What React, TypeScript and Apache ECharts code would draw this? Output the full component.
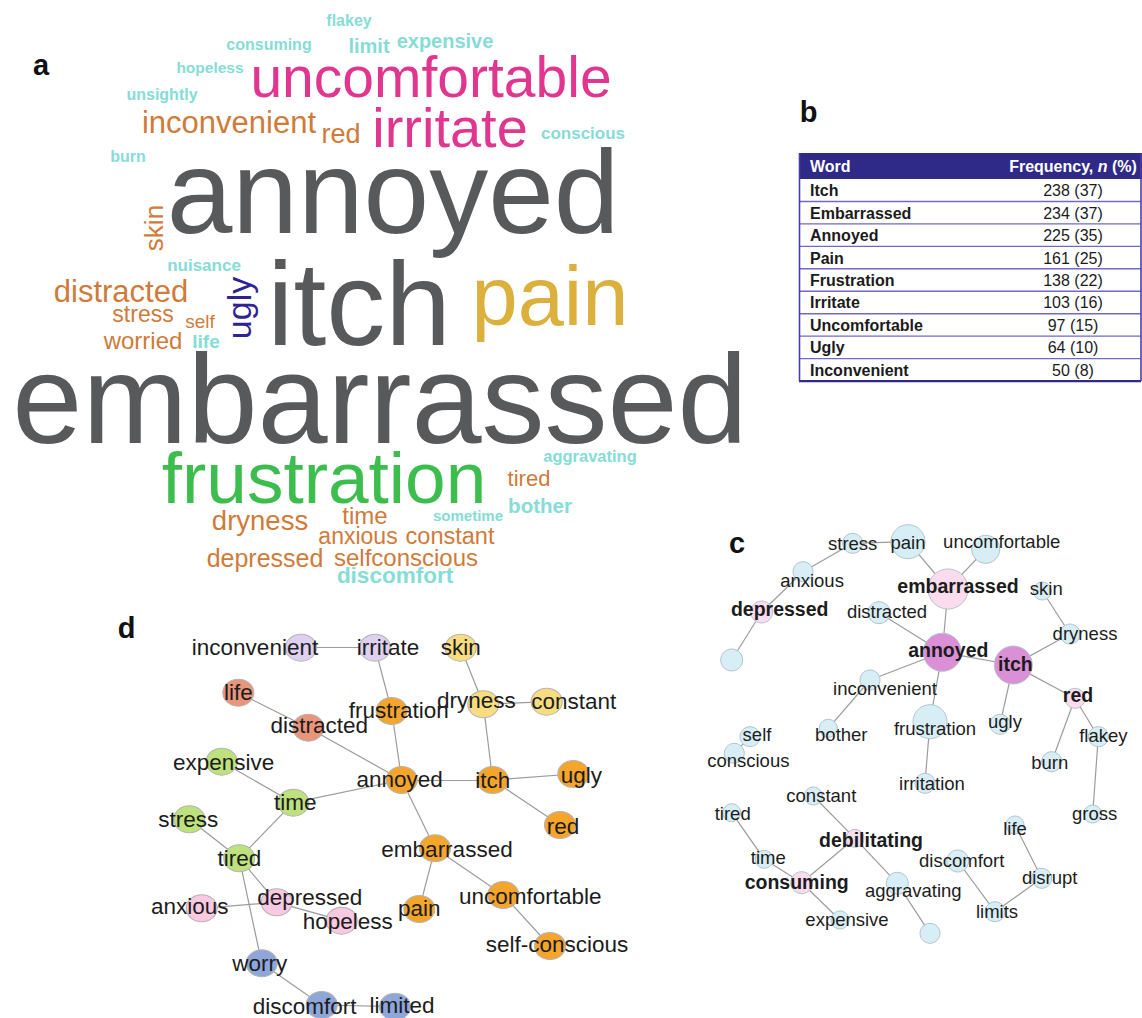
import React, { useEffect, useRef } from "react";
import * as echarts from "echarts";

const FONT = '"Liberation Sans", Arial, Helvetica, sans-serif';

// ---------- Panel a: word cloud ----------
const cloudWords = [
  "flakey", "consuming", "limit", "expensive", "hopeless", "uncomfortable", "unsightly",
  "inconvenient", "red", "irritate", "conscious", "burn", "annoyed", "skin", "nuisance",
  "distracted", "ugly", "itch", "pain", "stress", "self", "worried", "life", "embarrassed",
  "frustration", "aggravating", "tired", "bother", "sometime", "dryness", "time", "anxious",
  "constant", "depressed", "selfconscious", "discomfort",
];
const cloudGroup = [
  "teal", "teal", "teal", "teal", "teal", "pink", "teal",
  "orange", "orange", "pink", "teal", "teal", "gray", "orange", "teal",
  "orange", "navy", "gray", "gold", "orange", "orange", "orange", "teal", "gray",
  "green", "teal", "orange", "teal", "teal", "orange", "orange", "orange",
  "orange", "orange", "orange", "teal",
];
// layout of the cloud: [x, y, font size, rotation]
const cloudLayout: [number, number, number, number][] = [
  [349, 20.5, 16, 0], [269, 44.5, 16, 0], [369, 46, 20, 0], [445, 41, 20, 0], [210, 67.5, 15.5, 0],
  [431, 77, 57, 0], [162, 94.5, 16, 0], [229, 122, 31, 0], [341, 133.5, 27, 0], [450, 127.5, 56, 0],
  [583, 133, 17, 0], [128, 156.5, 16, 0], [393, 192, 118, 0], [154, 228, 26, 90], [204, 265, 17, 0],
  [121, 291, 31, 0], [239, 308, 34, 90], [359, 304, 118, 0], [550, 296, 83, 0], [143, 314, 23, 0],
  [200, 321, 19, 0], [143, 340, 24, 0], [206, 341, 19, 0], [380, 399, 126, 0], [324, 477, 73, 0],
  [590, 456, 16.5, 0], [529, 478, 22, 0], [540, 505, 20.5, 0], [468, 515, 15, 0], [260, 520, 27.5, 0],
  [365, 515, 24, 0], [358, 536, 23, 0], [450, 536, 23.5, 0], [265, 558, 25, 0], [406, 557, 24, 0],
  [395, 575, 22.5, 0],
];
const cloudColors: Record<string, string> = {
  gray: "#58595b", pink: "#e1368f", gold: "#dcb03c", green: "#3ebd4f",
  orange: "#cf7b39", teal: "#86dcd6", navy: "#2e2391",
};

// ---------- Panel b: table ----------
const tableWords = ["Itch", "Embarrassed", "Annoyed", "Pain", "Frustration", "Irritate", "Uncomfortable", "Ugly", "Inconvenient"];
const tableN = [238, 234, 225, 161, 138, 103, 97, 64, 50];
const tablePct = [37, 37, 35, 25, 22, 16, 15, 10, 8];

// ---------- Panel c: network ----------
const cNames = [
  "stress", "pain", "uncomfortable", "anxious", "embarrassed", "skin", "depressed", "distracted",
  "blank1", "dryness", "annoyed", "itch", "inconvenient", "red", "frustration", "ugly", "bother",
  "flakey", "self", "conscious", "burn", "irritation", "constant", "tired", "gross", "life",
  "debilitating", "time", "discomfort", "consuming", "disrupt", "aggravating", "limits", "expensive", "blank2",
];
const cKind = [
  "b", "b", "b", "b", "p", "b", "p", "b",
  "b", "b", "m", "m", "b", "p", "b", "b", "b",
  "b", "b", "b", "b", "b", "b", "b", "b", "b",
  "p", "b", "b", "p", "b", "b", "b", "b", "b",
];
const cPos: [number, number][] = [
  [852.7, 543.3], [908, 541.7], [985.7, 549.3], [803, 571.7], [948, 589], [1042.3, 591], [761.7, 612], [879, 612.7],
  [731.7, 660], [1070, 634], [942.3, 652.3], [1013.3, 665], [870, 680], [1075, 698.3], [930, 721.7], [1000, 724.3], [828.3, 728.3],
  [1098.3, 736.7], [750, 736.7], [734.3, 753.3], [1051.7, 761.7], [925, 783.3], [813.3, 796], [731.7, 812.7], [1092.7, 814], [1015, 825],
  [855, 838.3], [764.3, 859.3], [957.7, 861], [801.7, 882.7], [1041.7, 878.3], [897.3, 883.3], [995, 911.7], [840, 920], [930, 933.3],
];
const cSize = [
  20, 34, 28, 20, 40, 18, 22, 22,
  22, 20, 38, 38, 20, 20, 34, 20, 18,
  20, 20, 20, 20, 20, 18, 18, 18, 18,
  18, 18, 22, 22, 20, 22, 20, 18, 20,
];
const cLabelOffset: [number, number][] = [
  [0, 0], [0, 1], [16, -8], [9, 9], [10, -3], [4, -3], [18, -3], [8, -1],
  [0, 0], [15, -1], [6, -2], [2, -1], [15, 8], [3, -3], [5, 7], [5, -3], [13, 6],
  [5, -1], [7, -2], [14, 7], [-2, 1], [7, 0], [8, -1], [1, 1], [2, -1], [0, 3],
  [16, 2], [4, -2], [4, -1], [-5, -1], [8, -1], [16, 7], [2, 0], [7, -1], [0, 0],
];
const cBold = ["embarrassed", "depressed", "annoyed", "itch", "red", "debilitating", "consuming"];
const cEdges: [string, string][] = [
  ["stress", "pain"], ["stress", "anxious"], ["anxious", "depressed"], ["depressed", "blank1"],
  ["pain", "embarrassed"], ["uncomfortable", "embarrassed"], ["embarrassed", "annoyed"],
  ["distracted", "annoyed"], ["annoyed", "itch"], ["annoyed", "inconvenient"], ["annoyed", "frustration"],
  ["inconvenient", "bother"], ["frustration", "irritation"], ["itch", "dryness"], ["dryness", "skin"],
  ["itch", "ugly"], ["itch", "red"], ["red", "burn"], ["red", "flakey"], ["flakey", "gross"],
  ["self", "conscious"], ["tired", "time"], ["time", "consuming"], ["consuming", "debilitating"],
  ["consuming", "expensive"], ["constant", "debilitating"], ["debilitating", "aggravating"],
  ["aggravating", "blank2"], ["discomfort", "limits"], ["limits", "disrupt"], ["disrupt", "life"],
];
const cColors: Record<string, string> = { b: "#d7eef6", p: "#fbdcef", m: "#db8fd6" };

// ---------- Panel d: network ----------
const dNames = [
  "inconvenient", "irritate", "skin", "life", "frustration", "dryness", "constant", "distracted",
  "expensive", "annoyed", "itch", "ugly", "time", "stress", "red", "embarrassed", "tired",
  "depressed", "anxious", "uncomfortable", "pain", "hopeless", "self-conscious", "worry", "discomfort", "limited",
];
const dCluster = [
  "lav", "lav", "yel", "sal", "org", "yel", "yel", "sal",
  "grn", "org", "org", "org", "grn", "grn", "org", "org", "grn",
  "pnk", "pnk", "org", "org", "pnk", "org", "blu", "blu", "blu",
];
const dPos: [number, number][] = [
  [301, 647.7], [375, 647.7], [460.7, 647.7], [238.3, 692.7], [391.7, 711], [483.3, 704.3], [546.7, 701.7], [308.3, 727.7],
  [221.7, 761.7], [401.7, 780], [492.7, 780], [573.3, 774], [293.3, 802.7], [189.3, 819.3], [560, 825], [435, 848.3], [239.3, 858.3],
  [276.7, 902.3], [201.7, 908.3], [503.3, 895], [419.3, 909], [341.7, 920.7], [550, 946], [261.7, 963.3], [321.7, 1005], [395, 1006.7],
];
const dLabelOffset: [number, number][] = [
  [-46, 0], [13, 0], [0, 0], [0, 0], [7, -1], [-7, -4], [27, 0], [11, -2],
  [2, 1], [-2, -1], [0, 0], [8, 1], [2, 0], [-1, 0], [3, 1], [12, 1], [0, 0],
  [33, -5], [-12, -2], [27, 1], [0, -1], [6, 1], [7, -2], [-2, 0], [-17, 1], [7, -1],
];
const dEdges: [string, string][] = [
  ["inconvenient", "irritate"], ["irritate", "frustration"], ["frustration", "annoyed"],
  ["skin", "dryness"], ["dryness", "constant"], ["dryness", "itch"], ["life", "distracted"],
  ["distracted", "annoyed"], ["expensive", "time"], ["time", "annoyed"], ["annoyed", "itch"],
  ["itch", "ugly"], ["itch", "red"], ["annoyed", "embarrassed"], ["embarrassed", "pain"],
  ["embarrassed", "uncomfortable"], ["uncomfortable", "self-conscious"], ["time", "tired"],
  ["stress", "tired"], ["tired", "depressed"], ["tired", "worry"], ["anxious", "depressed"],
  ["depressed", "hopeless"], ["worry", "discomfort"], ["discomfort", "limited"],
];
const dColors: Record<string, string> = {
  lav: "#ded0f0", yel: "#f8dd80", sal: "#e9957b", org: "#f5a52c",
  grn: "#bde17d", pnk: "#f9c9e1", blu: "#8ea6da",
};

// ---------- panel letters ----------
const panelLetters = ["a", "b", "c", "d"];
const panelLetterPos: [number, number][] = [[41, 64.5], [808.5, 111.5], [737, 542.5], [126.5, 627.5]];

const ELLIPSE = "path://M0,50 A50,50 0 1,1 100,50 A50,50 0 1,1 0,50 Z";

function buildOption(): any {
  const cloudData = cloudWords.map((w, i) => {
    const [x, y, fs, rot] = cloudLayout[i];
    const g = cloudGroup[i];
    return {
      name: w,
      value: [x, y],
      label: {
        fontSize: fs,
        color: cloudColors[g],
        fontWeight: g === "teal" ? "bold" : "normal",
        rotate: rot,
      },
    };
  });

  const cData = cNames.map((n, i) => ({
    name: n,
    value: cPos[i],
    symbolSize: cSize[i],
    itemStyle: { color: cColors[cKind[i]], borderColor: "#b3c4cc", borderWidth: 1 },
    label: {
      show: !n.startsWith("blank"),
      offset: cLabelOffset[i],
      fontWeight: cBold.includes(n) ? "bold" : "normal",
      fontSize: cBold.includes(n) ? 19.5 : 18.5,
    },
  }));

  const dData = dNames.map((n, i) => ({
    name: n,
    value: dPos[i],
    symbolSize: [31, 27],
    itemStyle: { color: dColors[dCluster[i]], borderColor: "#b4b4b4", borderWidth: 1 },
    label: { offset: dLabelOffset[i] },
  }));

  const graphic: any[] = [];
  // table
  const tLeft = 799;
  const tRight = 1141;
  const headTop = 153;
  const headH = 26;
  const rowH = 22.45;
  const wordX = 810;
  const valX = 1073;
  graphic.push({
    type: "rect",
    shape: { x: tLeft, y: headTop, width: tRight - tLeft + 1, height: headH },
    style: { fill: "#2f2a88" },
  });
  graphic.push({
    type: "text",
    x: wordX,
    y: headTop + headH / 2,
    style: { text: "Word", fill: "#ffffff", font: `bold 16px ${FONT}`, textAlign: "left", textVerticalAlign: "middle" },
  });
  graphic.push({
    type: "text",
    x: valX,
    y: headTop + headH / 2,
    style: {
      text: "{a|Frequency, }{b|n}{a| (%)}",
      textAlign: "center",
      textVerticalAlign: "middle",
      rich: {
        a: { fill: "#ffffff", fontFamily: FONT, fontWeight: "bold", fontSize: 16 },
        b: { fill: "#ffffff", fontFamily: FONT, fontWeight: "bold", fontStyle: "italic", fontSize: 16 },
      },
    },
  });
  const rowsTop = headTop + headH;
  tableWords.forEach((w, i) => {
    const top = rowsTop + i * rowH;
    graphic.push({
      type: "text",
      x: wordX,
      y: top + rowH / 2 + 0.5,
      style: { text: w, fill: "#1b1b1b", font: `bold 16px ${FONT}`, textAlign: "left", textVerticalAlign: "middle" },
    });
    graphic.push({
      type: "text",
      x: valX,
      y: top + rowH / 2 + 0.5,
      style: { text: `${tableN[i]} (${tablePct[i]})`, fill: "#1b1b1b", font: `16px ${FONT}`, textAlign: "center", textVerticalAlign: "middle" },
    });
    const last = i === tableWords.length - 1;
    graphic.push({
      type: "line",
      shape: { x1: tLeft, y1: top + rowH, x2: tRight, y2: top + rowH },
      style: { stroke: last ? "#2f2a88" : "#7467c9", lineWidth: last ? 2.2 : 1.4 },
    });
  });
  const tBottom = rowsTop + tableWords.length * rowH;
  graphic.push({
    type: "line",
    shape: { x1: tLeft + 0.5, y1: headTop, x2: tLeft + 0.5, y2: tBottom },
    style: { stroke: "#4a3fa8", lineWidth: 1.6 },
  });
  graphic.push({
    type: "line",
    shape: { x1: tRight, y1: headTop, x2: tRight, y2: tBottom },
    style: { stroke: "#4a3fa8", lineWidth: 1.6 },
  });

  panelLetters.forEach((l, i) => {
    graphic.push({
      type: "text",
      x: panelLetterPos[i][0],
      y: panelLetterPos[i][1],
      style: { text: l, fill: "#111111", font: `bold 29px ${FONT}`, textAlign: "center", textVerticalAlign: "middle" },
    });
  });

  return {
    animation: false,
    backgroundColor: "#ffffff",
    grid: { left: 0, top: 0, width: 1142, height: 1018 },
    xAxis: { type: "value", min: 0, max: 1142, show: false },
    yAxis: { type: "value", min: 0, max: 1018, inverse: true, show: false },
    series: [
      {
        type: "scatter",
        silent: true,
        symbol: "circle",
        symbolSize: 1,
        itemStyle: { color: "rgba(255,255,255,0)", opacity: 1 },
        label: {
          show: true,
          position: "inside",
          formatter: "{b}",
          fontFamily: FONT,
          textBorderWidth: 0,
          align: "center",
          verticalAlign: "middle",
        },
        emphasis: { disabled: true },
        data: cloudData,
        z: 2,
      },
      {
        type: "graph",
        layout: "none",
        coordinateSystem: "cartesian2d",
        silent: true,
        roam: false,
        symbol: "circle",
        label: {
          show: true,
          position: "inside",
          color: "#1c1c1c",
          fontFamily: FONT,
          textBorderWidth: 0,
          formatter: "{b}",
        },
        lineStyle: { color: "#9c9c9c", width: 1.2, opacity: 1, curveness: 0 },
        emphasis: { disabled: true },
        data: cData,
        links: cEdges.map(([s, t]) => ({ source: s, target: t })),
        z: 3,
      },
      {
        type: "graph",
        layout: "none",
        coordinateSystem: "cartesian2d",
        silent: true,
        roam: false,
        symbol: ELLIPSE,
        label: {
          show: true,
          position: "inside",
          color: "#1c1c1c",
          fontFamily: FONT,
          fontSize: 22.5,
          textBorderWidth: 0,
          formatter: "{b}",
        },
        lineStyle: { color: "#9c9c9c", width: 1.2, opacity: 1, curveness: 0 },
        emphasis: { disabled: true },
        data: dData,
        links: dEdges.map(([s, t]) => ({ source: s, target: t })),
        z: 3,
      },
    ],
    graphic,
  };
}

export default function App() {
  const ref = useRef<HTMLDivElement>(null);
  useEffect(() => {
    document.body.style.margin = "0";
    const chart = echarts.init(ref.current as HTMLDivElement, null, { renderer: "svg" });
    chart.setOption(buildOption());
    return () => chart.dispose();
  }, []);
  return (
    <div
      ref={ref}
      style={{ width: 1142, height: 1018, position: "absolute", left: 0, top: 0, background: "#fff" }}
    />
  );
}
